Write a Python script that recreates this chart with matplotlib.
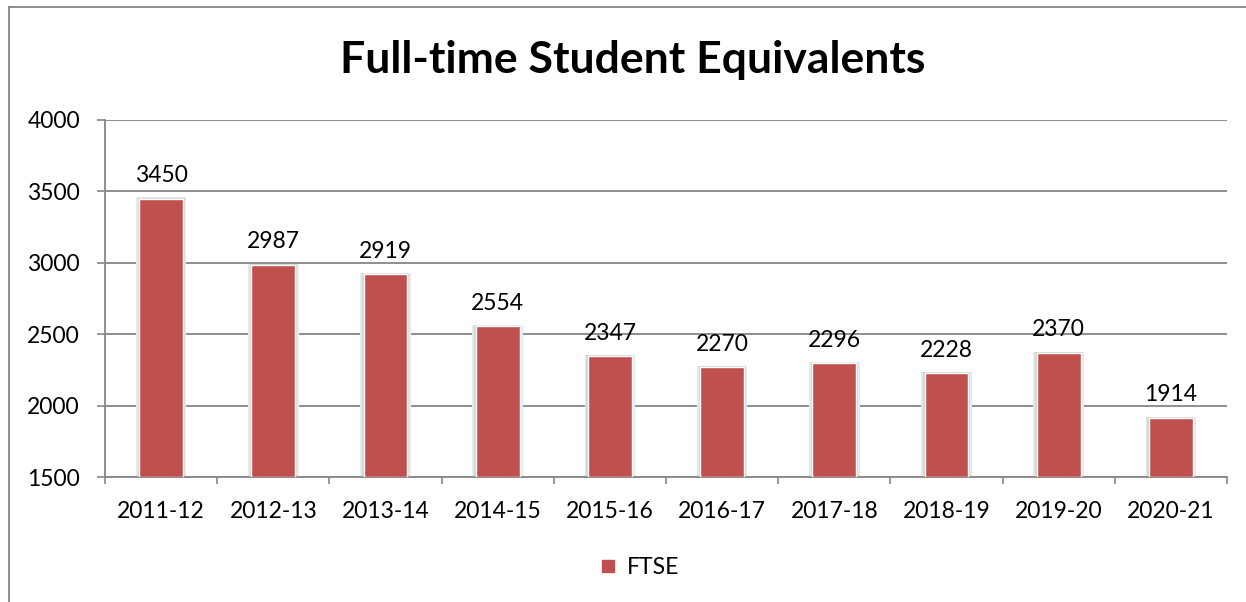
import numpy as np
import matplotlib
matplotlib.use('Agg')
from matplotlib import pyplot
from matplotlib.lines import Line2D

years = ['2011-12', '2012-13', '2013-14', '2014-15', '2015-16',
         '2016-17', '2017-18', '2018-19', '2019-20', '2020-21']
ftse = [3450, 2987, 2919, 2554, 2347, 2270, 2296, 2228, 2370, 1914]
y_ticks = [1500, 2000, 2500, 3000, 3500, 4000]

bar_color = '#C0504D'
grid_color = '#868686'
pyplot.rcParams['font.family'] = ['Lato', 'DejaVu Sans']
fs = 16.5

fig = pyplot.figure(figsize=(12.46, 6.02), dpi=100)
W, H = 1246.0, 602.0
ax = fig.add_axes([105/W, 1 - 477/H, (1227 - 105)/W, (477 - 120)/H])

x = np.arange(len(years))
# soft shadow behind bars
ax.bar(x, np.array(ftse) - 1500 + 8, bottom=1500, width=0.45, color='#e8e8e8', zorder=2)
ax.bar(x, np.array(ftse) - 1500 + 4, bottom=1500, width=0.42, color='#d4d4d4', zorder=2)
bars = ax.bar(x, np.array(ftse) - 1500, bottom=1500, width=0.39, color=bar_color,
              edgecolor='white', linewidth=1, zorder=3, label='FTSE')

for xi, v in zip(x, ftse):
    ax.annotate(str(v), (xi, v), xytext=(0, 9), textcoords='offset points',
                ha='center', va='bottom', fontsize=fs, color='black')

ax.set_xlim(-0.5, len(years) - 0.5)
ax.set_ylim(1500, 4000)
ax.set_yticks(y_ticks)
ax.set_yticklabels([str(t) for t in y_ticks], fontsize=fs)
ax.set_xticks(x)
ax.set_xticklabels(years, fontsize=fs)
ax.set_xticks(np.arange(-0.5, len(years)), minor=True)
ax.tick_params(axis='x', which='major', length=0, pad=17)
ax.tick_params(axis='x', which='minor', length=5, width=1.2, color=grid_color)
ax.tick_params(axis='y', length=6, width=1.2, color=grid_color, pad=12)

ax.yaxis.grid(True, color=grid_color, linewidth=1.3, zorder=0)
ax.set_axisbelow(True)
for s in ['top', 'right']:
    ax.spines[s].set_visible(False)
for s in ['left', 'bottom']:
    ax.spines[s].set_color(grid_color)
    ax.spines[s].set_linewidth(1.3)

fig.text(633/W, 1 - 60/H, 'Full-time Student Equivalents', ha='center', va='center',
         fontsize=32, fontweight='bold')

handle = Line2D([], [], marker='s', linestyle='none', markersize=9,
                markerfacecolor=bar_color, markeredgecolor=bar_color)
fig.legend([handle], ['FTSE'], loc='center', bbox_to_anchor=(638/W, 1 - 568/H),
           frameon=False, fontsize=fs, handletextpad=0.3, handlelength=1.0)

# outer chart border (cropped on right/bottom)
fig.add_artist(Line2D([9/W, 9/W], [0, 1 - 7/H], color=grid_color, linewidth=1.3))
fig.add_artist(Line2D([9/W, 1], [1 - 7/H, 1 - 7/H], color=grid_color, linewidth=1.3))

pyplot.savefig('out.png', dpi=100)
